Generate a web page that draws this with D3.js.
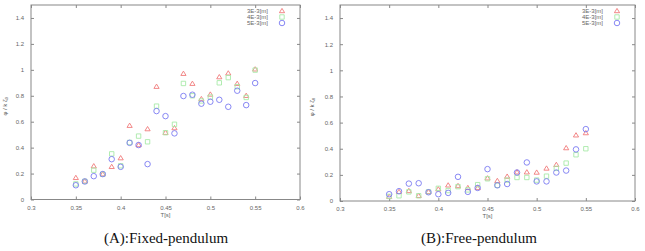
<!DOCTYPE html>
<html>
<head>
<meta charset="utf-8">
<script src="https://cdn.jsdelivr.net/npm/d3@7"></script>
<style>
  body { margin: 0; background: #fff; }
  svg text { font-family: "Liberation Sans", Arial, sans-serif; }
  .tick text { fill: #666; font-size: 6px; }
  .caption { font-family: "Liberation Serif", "Times New Roman", serif !important; font-size: 15px; fill: #111; }
</style>
</head>
<body>
<svg id="chart" width="645" height="251"></svg>
<script>
// periods T[s]
var periods = [0.35, 0.36, 0.37, 0.38, 0.39, 0.40, 0.41, 0.42, 0.43, 0.44, 0.45,
               0.46, 0.47, 0.48, 0.49, 0.50, 0.51, 0.52, 0.53, 0.54, 0.55];

var seriesNames = ["3E-3[m]", "4E-3[m]", "5E-3[m]"];
var seriesColors = ["#f07a7a", "#a8eaa8", "#7a7af2"];
var xTicks = [0.3, 0.35, 0.4, 0.45, 0.5, 0.55, 0.6];
var yTicks = [0, 0.2, 0.4, 0.6, 0.8, 1, 1.2, 1.4];

// (A) fixed pendulum
var fixed3 = [0.167, 0.14, 0.257, 0.195, 0.252, 0.319, 0.569, 0.42, 0.543, 0.87, 0.515,
              0.551, 0.97, 0.893, 0.775, 0.81, 0.944, 0.973, 0.893, 0.80, 1.004];
var fixed4 = [0.12, 0.14, 0.226, 0.195, 0.352, 0.26, 0.44, 0.489, 0.445, 0.72, 0.515,
              0.58, 0.895, 0.80, 0.76, 0.79, 0.90, 0.94, 0.87, 0.787, 0.998];
var fixed5 = [0.11, 0.139, 0.18, 0.196, 0.311, 0.252, 0.437, 0.42, 0.273, 0.682, 0.643,
              0.51, 0.798, 0.808, 0.739, 0.754, 0.769, 0.715, 0.839, 0.728, 0.898];

// (B) free pendulum
var free3 = [0.033, 0.07, 0.077, 0.04, 0.07, 0.09, 0.12, 0.115, 0.10, 0.10, 0.174,
             0.154, 0.187, 0.22, 0.22, 0.218, 0.249, 0.277, 0.405, 0.503, 0.52];
var free4 = [0.035, 0.04, 0.07, 0.04, 0.07, 0.097, 0.08, 0.11, 0.085, 0.125, 0.17,
             0.12, 0.16, 0.18, 0.18, 0.16, 0.19, 0.25, 0.29, 0.354, 0.40];
var free5 = [0.052, 0.075, 0.133, 0.136, 0.067, 0.052, 0.062, 0.185, 0.07, 0.10, 0.244,
             0.12, 0.13, 0.218, 0.295, 0.15, 0.15, 0.218, 0.233, 0.395, 0.55];

var svg = d3.select("#chart");

drawPanel({ left: 31, right: 300, top: 5, bottom: 199.5, labelX: 7,
            legendX: 268, markX: 282, caption: "(A):Fixed-pendulum", captionX: 166,
            series: [fixed3, fixed4, fixed5] });
drawPanel({ left: 340, right: 635, top: 5, bottom: 201, labelX: 314,
            legendX: 603, markX: 617, caption: "(B):Free-pendulum", captionX: 479,
            series: [free3, free4, free5] });

function drawPanel(p) {
    var x = d3.scaleLinear().domain([0.3, 0.6]).range([p.left, p.right]);
    var y = d3.scaleLinear().domain([0, 1.5]).range([p.bottom, p.top]);
    var g = svg.append("g");

    // axes with gnuplot-style inward ticks, mirrored
    var fmt = function(d) { return d3.format("~g")(d); };
    g.append("g").attr("transform", "translate(0," + p.bottom + ")")
        .call(d3.axisBottom(x).tickValues(xTicks).tickFormat(fmt).tickSizeInner(-3).tickSizeOuter(0).tickPadding(6));
    g.append("g").attr("transform", "translate(" + p.left + ",0)")
        .call(d3.axisLeft(y).tickValues(yTicks).tickFormat(fmt).tickSizeInner(-3).tickSizeOuter(0).tickPadding(7));
    g.append("g").attr("transform", "translate(0," + p.top + ")")
        .call(d3.axisTop(x).tickValues(xTicks).tickFormat("").tickSizeInner(-3).tickSizeOuter(0));
    g.append("g").attr("transform", "translate(" + p.right + ",0)")
        .call(d3.axisRight(y).tickValues(yTicks).tickFormat("").tickSizeInner(-3).tickSizeOuter(0));
    g.selectAll(".domain").remove();
    g.selectAll(".tick line").attr("stroke", "#888");

    g.append("rect")
        .attr("x", p.left).attr("y", p.top)
        .attr("width", p.right - p.left).attr("height", p.bottom - p.top)
        .attr("fill", "none").attr("stroke", "#888").attr("stroke-width", 1);

    // axis labels
    g.append("text").attr("x", (p.left + p.right) / 2).attr("y", p.bottom + 17)
        .attr("text-anchor", "middle").attr("font-size", 6).attr("fill", "#666").text("T[s]");
    g.append("text")
        .attr("transform", "translate(" + p.labelX + "," + ((p.top + p.bottom) / 2 + 4) + ") rotate(-90)")
        .attr("text-anchor", "middle").attr("font-size", 6).attr("fill", "#555")
        .text("φ / k ζ₀");

    // points
    p.series.forEach(function(vals, i) {
        g.append("g").selectAll("path").data(vals).join("path")
            .attr("transform", function(d, j) { return "translate(" + x(periods[j]) + "," + y(d) + ")"; })
            .attr("d", markerPath(i))
            .attr("fill", "none").attr("stroke", seriesColors[i]).attr("stroke-width", 0.9);
    });

    // legend
    seriesNames.forEach(function(name, i) {
        var ly = 11 + i * 6;
        g.append("text").attr("x", p.legendX).attr("y", ly + 2)
            .attr("text-anchor", "end").attr("font-size", 6).attr("fill", "#666").text(name);
        g.append("path").attr("transform", "translate(" + p.markX + "," + ly + ")")
            .attr("d", markerPath(i)).attr("fill", "none")
            .attr("stroke", seriesColors[i]).attr("stroke-width", 0.9);
    });

    svg.append("text").attr("class", "caption")
        .attr("x", p.captionX).attr("y", 243).attr("text-anchor", "middle").text(p.caption);
}

function markerPath(i) {
    if (i === 0) return "M-2.6,1.7L0,-2.6L2.6,1.7Z";
    if (i === 1) return "M-2.2,-2.2H2.2V2.2H-2.2Z";
    return d3.symbol(d3.symbolCircle, 24)();
}
</script>
</body>
</html>
